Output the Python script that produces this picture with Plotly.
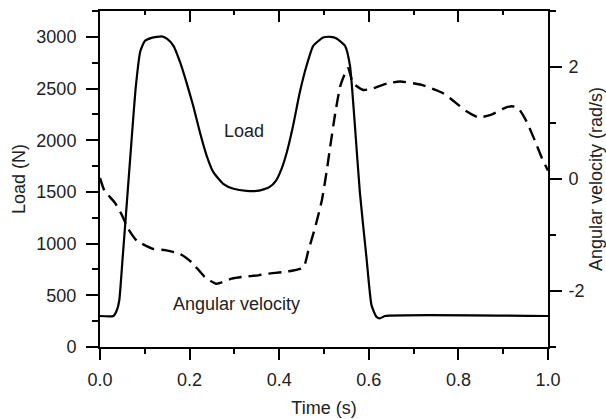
import plotly.graph_objects as go

# Load curve (N) vs time (s)
t_load = [0, 0.03, 0.038, 0.043, 0.05, 0.06, 0.07, 0.08, 0.09, 0.1, 0.115, 0.138,
          0.15, 0.164, 0.179, 0.193, 0.208, 0.223, 0.238, 0.253, 0.275, 0.298,
          0.327, 0.355, 0.378, 0.393, 0.405, 0.417, 0.431, 0.446, 0.461, 0.476, 0.498,
          0.515, 0.528, 0.547, 0.558, 0.569, 0.58, 0.595, 0.606, 0.617, 0.625,
          0.636, 1.0]
load = [300, 300, 360, 450, 830, 1400, 1975, 2520, 2860, 2960, 2990, 3005,
        2980, 2913, 2752, 2559, 2334, 2077, 1852, 1691, 1579, 1531,
        1510, 1512, 1546, 1610, 1720, 1884, 2141, 2463, 2720, 2913, 2993,
        3000, 2984, 2913, 2720, 2141, 1498, 856, 405, 292, 277,
        300, 300]

# Angular velocity (rad/s) vs time (s)
t_w = [0, 0.01, 0.033, 0.048, 0.063, 0.082, 0.119, 0.145, 0.179, 0.205, 0.234,
       0.26, 0.294, 0.316, 0.353, 0.376, 0.42, 0.454, 0.465, 0.48, 0.495, 0.506,
       0.513, 0.524, 0.536, 0.547, 0.554, 0.565, 0.588, 0.61, 0.643, 0.67, 0.718,
       0.766, 0.785, 0.818, 0.845, 0.874, 0.904, 0.92, 0.934, 0.952, 0.971,
       0.986, 1.0]
omega = [0.02, -0.21, -0.42, -0.63, -0.89, -1.10, -1.25, -1.27, -1.34, -1.49, -1.75,
         -1.87, -1.78, -1.75, -1.72, -1.69, -1.65, -1.58, -1.28, -0.87, -0.39, 0.14,
         0.53, 1.12, 1.65, 1.89, 1.98, 1.71, 1.59, 1.62, 1.71, 1.74, 1.68,
         1.53, 1.42, 1.21, 1.10, 1.15, 1.27, 1.30, 1.26, 1.03, 0.68,
         0.38, 0.15]

x_range = [0, 1.0]
load_range = [0, 3250]
omega_range = [-3, 3]
omega_ticks = [-2, 0, 2]
omega_ticktext = ["-2", "0", "2"]

FONT = "Liberation Sans"
TXT = "#222222"
TFONT = dict(family=FONT, size=18, color=TXT)
fig = go.Figure()
fig.add_trace(go.Scatter(x=t_load, y=load, mode="lines",
                         line=dict(color="black", width=2.2, shape="spline", smoothing=0.5),
                         showlegend=False))
fig.add_trace(go.Scatter(x=t_w, y=omega, mode="lines", yaxis="y2",
                         line=dict(color="black", width=2.4, dash="13px,7px",
                                   shape="spline", smoothing=0.5),
                         showlegend=False))
fig.add_trace(go.Scatter(x=[0, 1], y=[0, 0], xaxis="x2", mode="lines",
                         line=dict(width=0), hoverinfo="skip", showlegend=False))

axcommon = dict(showgrid=False, zeroline=False, showline=True, linecolor="black",
                linewidth=2, tickcolor="black", tickwidth=2, automargin=False)

fig.update_layout(
    width=606, height=419,
    margin=dict(l=100, r=58, t=11, b=72),
    paper_bgcolor="white", plot_bgcolor="white",
    font=dict(family=FONT, size=18, color=TXT),
    xaxis=dict(range=x_range, dtick=0.2, tick0=0, tickformat=".1f",
               ticks="outside", ticklen=11, ticklabelstandoff=4,
               minor=dict(dtick=0.1, ticks="outside", ticklen=5, tickcolor="black", tickwidth=2),
               title=dict(text="Time (s)", standoff=13, font=TFONT), **axcommon),
    xaxis2=dict(range=x_range, overlaying="x", side="top", dtick=0.2, tick0=0,
                ticks="inside", ticklen=11, showticklabels=False,
                minor=dict(dtick=0.1, ticks="inside", ticklen=4, tickcolor="black", tickwidth=2),
                **axcommon),
    yaxis=dict(range=load_range, dtick=500, tick0=0, ticks="outside", ticklen=12,
               ticklabelstandoff=6,
               minor=dict(dtick=250, ticks="outside", ticklen=6, tickcolor="black", tickwidth=2),
               title=dict(text="Load (N)", standoff=6, font=TFONT), **axcommon),
    yaxis2=dict(range=omega_range, overlaying="y", side="right",
                tickvals=omega_ticks, ticktext=omega_ticktext,
                ticks="outside", ticklen=12, ticklabelstandoff=3,
                minor=dict(dtick=1, tick0=0, ticks="outside", ticklen=6, tickcolor="black", tickwidth=2),
                title=dict(text="Angular velocity (rad/s)", standoff=14, font=TFONT), **axcommon),
    annotations=[
        dict(x=0.321, y=2093, xref="x", yref="y", text="Load", showarrow=False, font=TFONT),
        dict(x=0.305, y=420, xref="x", yref="y", text="Angular velocity", showarrow=False,
             font=TFONT),
    ],
)

fig.write_html("out.html", config={"displayModeBar": False},
               post_script="document.body.style.margin='0';document.body.style.overflow='hidden';")
